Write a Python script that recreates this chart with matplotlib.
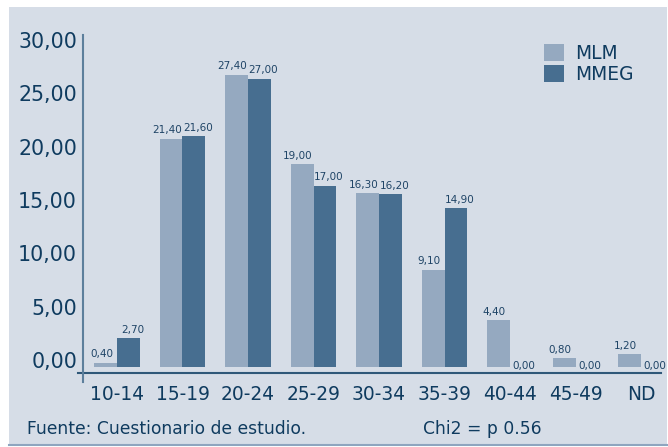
import numpy as np
import matplotlib
matplotlib.use("Agg")
from matplotlib import pyplot as plt
from matplotlib.patches import Rectangle
from matplotlib.lines import Line2D
import matplotlib.transforms as mtransforms

# data
categories = ["10-14", "15-19", "20-24", "25-29", "30-34", "35-39", "40-44", "45-49", "ND"]
mlm = [0.40, 21.40, 27.40, 19.00, 16.30, 9.10, 4.40, 0.80, 1.20]
mmeg = [2.70, 21.60, 27.00, 17.00, 16.20, 14.90, 0.00, 0.00, 0.00]
yticks = [0, 5, 10, 15, 20, 25, 30]

light = "#95a9c0"
dark = "#476e90"
bg = "#d6dde7"
txt = "#0f3b5f"

plt.rcParams['font.family'] = ['DejaVu Sans']

fig = plt.figure(figsize=(6.68, 4.47), dpi=100)
fig.patch.set_facecolor("white")
fig.patches.append(Rectangle((9/668, 2/447), 658/668, 438/447, transform=fig.transFigure,
                             facecolor=bg, edgecolor="none", zorder=-5))
fig.lines.append(Line2D([9/668, 1.0], [2/447, 2/447], transform=fig.transFigure,
                        color="#8ea5bf", linewidth=1.5, zorder=-4))

ax = fig.add_axes([83/668, 1-372.7/447, 578/668, 337.7/447])
ax.set_zorder(2)
ax.set_facecolor("none")

x = np.arange(len(categories))
w = 0.347
ax.bar(x - w/2, mlm, w, color=light, label="MLM", zorder=2)
ax.bar(x + w/2, mmeg, w, color=dark, label="MMEG", zorder=2)

ax.set_xlim(-0.519, 8.305)
ax.set_ylim(-0.534, 31.11)

# value labels
for i in range(len(categories)):
    for val, dx in ((mlm[i], -w/2), (mmeg[i], w/2)):
        lab = ("%.2f" % val).replace(".", ",")
        if val == 0:
            off = (2, -3)
        else:
            off = (-3 if dx < 0 else 3, 2.5)
        ax.annotate(lab, (i + dx, val), xytext=off, textcoords="offset points",
                    ha="center", va="bottom", fontsize=7.5, color="#1f4466")

for s in ax.spines.values():
    s.set_visible(False)
ax.add_line(Line2D([-5/578, 1], [0, 0], transform=ax.transAxes, color="#2f5879",
                   linewidth=1.5, clip_on=False))
ax.add_line(Line2D([0, 0], [1, -9.3/337.7], transform=ax.transAxes, color="#5d7f9c",
                   linewidth=1.5, clip_on=False))

ax.set_xticks(x)
ax.set_xticklabels(categories, fontsize=13.4, color=txt)
ax.set_yticks(yticks)
ax.set_yticklabels([("%.2f" % v).replace(".", ",") for v in yticks], fontsize=14.8, color=txt)
ax.tick_params(axis="both", length=0)
ax.tick_params(axis="x", pad=9)
ax.tick_params(axis="y", pad=4.3)
shift = mtransforms.ScaledTranslation(0, 7/100, fig.dpi_scale_trans)
for t in ax.get_yticklabels():
    t.set_transform(t.get_transform() + shift)

leg = ax.legend(loc="upper left", bbox_to_anchor=(544/668, 1-44/447), bbox_transform=fig.transFigure,
                frameon=False, fontsize=13.4, handlelength=1.05, handleheight=1.05,
                handletextpad=0.6, labelspacing=0.1, borderpad=0, borderaxespad=0)
for t in leg.get_texts():
    t.set_color(txt)

fig.text(27/668, 1-429/447, "Fuente: Cuestionario de estudio.", fontsize=12.3, color=txt,
         ha="left", va="center")
fig.text(423/668, 1-429/447, "Chi2 = p 0.56", fontsize=12.3, color=txt, ha="left", va="center")

fig.savefig("out.png", dpi=100)
